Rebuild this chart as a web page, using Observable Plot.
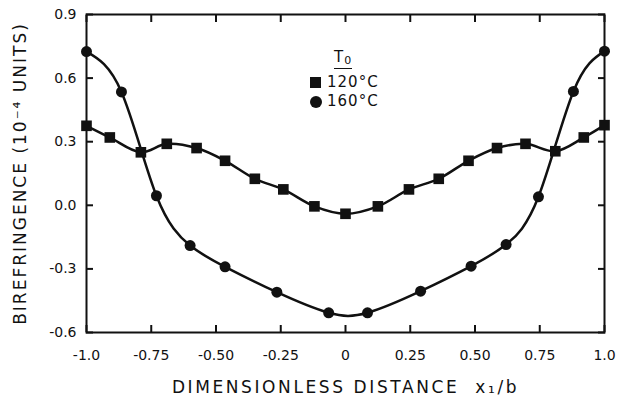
<!DOCTYPE html>
<html><head><meta charset="utf-8">
<script src="https://cdn.jsdelivr.net/npm/d3@7"></script>
<script src="https://cdn.jsdelivr.net/npm/@observablehq/plot@0.6"></script>
<style>
body{margin:0;background:#fff;}
#wrap{position:relative;width:619px;height:403px;font-family:"DejaVu Sans",sans-serif;}
#wrap svg{font-family:"DejaVu Sans",sans-serif;}
g[aria-label="x-axis label"] text{font-size:17px;letter-spacing:2.6px;fill:#111;}
g[aria-label="y-axis label"] text{font-size:17px;letter-spacing:2px;fill:#111;}
g[aria-label="x-axis tick label"] text, g[aria-label="y-axis tick label"] text{font-size:14px;fill:#111;}
#legend{position:absolute;left:310px;top:50px;font-size:15px;color:#111;line-height:19px;letter-spacing:1px;}
#legend .t{margin-left:24px;width:fit-content;border-bottom:1.5px solid #111;line-height:15px;margin-bottom:4px;}
#legend .row{display:flex;align-items:center;}
#legend .sq{width:11px;height:11px;background:#111;margin-right:6px;}
#legend .ci{width:12px;height:12px;border-radius:50%;background:#111;margin-right:5px;}
</style></head>
<body><div id="wrap"></div>
<script>
const sqX = [-1.0,-0.91,-0.79,-0.69,-0.575,-0.465,-0.35,-0.24,-0.12,0,0.125,0.245,0.36,0.475,0.585,0.695,0.81,0.92,1.0];
const sqY = [0.375,0.32,0.25,0.29,0.27,0.21,0.125,0.075,-0.005,-0.04,-0.005,0.075,0.125,0.21,0.27,0.29,0.255,0.32,0.378];
const ciX = [-1.0,-0.865,-0.73,-0.6,-0.465,-0.265,-0.065,0.085,0.29,0.485,0.62,0.745,0.88,1.0];
const ciY = [0.725,0.535,0.045,-0.19,-0.29,-0.41,-0.507,-0.507,-0.405,-0.287,-0.185,0.04,0.537,0.727];
const xTicks = [-1.0,-0.75,-0.5,-0.25,0,0.25,0.5,0.75,1.0];
const xTickLabels = ["-1.0","-0.75","-0.50","-0.25","0","0.25","0.50","0.75","1.0"];
const yTicks = [0.9,0.6,0.3,0.0,-0.3,-0.6];
const yTickLabels = ["0.9","0.6","0.3","0.0","-0.3","-0.6"];
const seriesNames = ["120°C","160°C"];

const sq = sqX.map((x,i)=>({x, y: sqY[i]}));
const ci = ciX.map((x,i)=>({x, y: ciY[i]}));
const blank = () => "";

const chart = Plot.plot({
  width: 619, height: 403,
  marginLeft: 86, marginRight: 15, marginTop: 14, marginBottom: 71,
  x: {domain: [-1, 1]},
  y: {domain: [-0.6, 0.9]},
  marks: [
    Plot.frame({stroke: "#111", strokeWidth: 2}),
    Plot.axisX({ticks: xTicks, tickSize: 0, tickPadding: 18, tickFormat: d => xTickLabels[xTicks.indexOf(d)],
      label: "DIMENSIONLESS DISTANCE  x₁/b", labelAnchor: "center", labelArrow: "none", labelOffset: 60}),
    Plot.axisY({ticks: yTicks, tickSize: 0, tickPadding: 10, tickFormat: d => yTickLabels[yTicks.indexOf(d)],
      label: "BIREFRINGENCE (10⁻⁴ UNITS)", labelAnchor: "center", labelOffset: 73, labelArrow: "none"}),
    Plot.axisX({ticks: xTicks, tickSize: 7, dy: -7, tickFormat: blank, label: null, stroke: "#111", strokeWidth: 2}),
    Plot.axisX({anchor: "top", ticks: xTicks, tickSize: 7, dy: 7, tickFormat: blank, label: null, stroke: "#111", strokeWidth: 2}),
    Plot.axisY({ticks: yTicks, tickSize: 7, dx: 7, tickFormat: blank, label: null, stroke: "#111", strokeWidth: 2}),
    Plot.axisY({anchor: "right", ticks: yTicks, tickSize: 7, dx: -7, tickFormat: blank, label: null, stroke: "#111", strokeWidth: 2}),
    Plot.line(sq, {x: "x", y: "y", curve: "catmull-rom", stroke: "#111", strokeWidth: 2.5}),
    Plot.line(ci, {x: "x", y: "y", curve: "natural", stroke: "#111", strokeWidth: 2.5}),
    Plot.dot(sq, {x: "x", y: "y", symbol: "square", r: 6, fill: "#111", stroke: "none"}),
    Plot.dot(ci, {x: "x", y: "y", symbol: "circle", r: 5.5, fill: "#111", stroke: "none"})
  ]
});
const wrap = document.getElementById("wrap");
wrap.appendChild(chart);
const lg = document.createElement("div");
lg.id = "legend";
lg.innerHTML = `<div class="t">T<span style="font-size:11px;vertical-align:-2px">0</span></div>
<div class="row"><span class="sq"></span>${seriesNames[0]}</div>
<div class="row"><span class="ci"></span>${seriesNames[1]}</div>`;
wrap.appendChild(lg);
</script></body></html>
